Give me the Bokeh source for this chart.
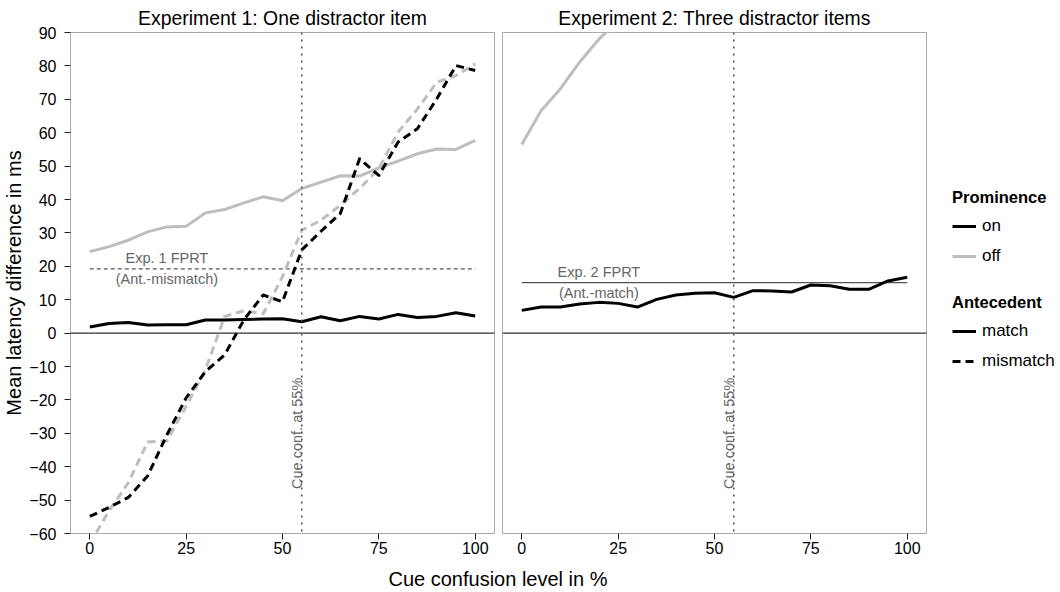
import math
from bokeh.plotting import figure
from bokeh.models import Range1d, Span, Legend, LegendItem, Div, FixedTicker
from bokeh.layouts import row, column
from bokeh.embed import file_html
from bokeh.resources import INLINE
from bokeh.core.properties import value

# ---------------- data ----------------
cue_level = [0, 5, 10, 15, 20, 25, 30, 35, 40, 45, 50, 55, 60, 65, 70, 75, 80, 85, 90, 95, 100]

exp1_on_match = [1.8, 2.9, 3.2, 2.4, 2.5, 2.5, 3.9, 3.9, 4.1, 4.2, 4.3, 3.4, 4.9, 3.7, 5.0, 4.2, 5.6, 4.7, 5.0, 6.1, 5.1]
exp1_off_match = [24.4, 25.9, 27.8, 30.3, 31.8, 32.0, 36.0, 37.0, 39.0, 40.8, 39.6, 43.3, 45.2, 47.1, 47.0, 49.5, 51.5, 53.7, 55.1, 55.0, 57.7]
exp1_on_mismatch = [-54.9, -52.2, -49.2, -42.8, -30.5, -19.4, -11.5, -6.5, 4.0, 11.4, 9.4, 24.9, 30.5, 35.8, 52.2, 47.2, 57.2, 61.2, 70.1, 80.1, 78.6]
exp1_off_mismatch = [-63.0, -53.2, -44.8, -32.6, -32.3, -21.9, -11.0, 5.0, 6.7, 5.8, 16.9, 30.8, 33.8, 38.3, 43.3, 49.2, 60.2, 67.1, 75.1, 77.1, 80.6]

exp2_on_match = [6.8, 7.8, 7.8, 8.7, 9.2, 8.9, 7.8, 10.1, 11.4, 11.9, 12.1, 10.7, 12.7, 12.6, 12.3, 14.4, 14.2, 13.1, 13.1, 15.6, 16.7]
exp2_off_match = [56.5, 66.6, 73.1, 81.1, 88.0, 93.5]  # leaves the visible range after ~22 %

exp1_fprt = 19.2   # Exp. 1 FPRT (Ant.-mismatch)
exp2_fprt = 15.1   # Exp. 2 FPRT (Ant.-match)
cue_conf = 55

x_ticks = [0, 25, 50, 75, 100]
y_ticks = [-60, -50, -40, -30, -20, -10, 0, 10, 20, 30, 40, 50, 60, 70, 80, 90]
panel_titles = ["Experiment 1: One distractor item", "Experiment 2: Three distractor items"]

# ---------------- style ----------------
FONT = "Liberation Sans"
GRAY = "#bebebe"
REF = "#555555"
LW = 3
DASH = "8 5"
H = 556
label_x = 20
cue_text_y = -30
NAN = float("nan")


def style(p):
    p.outline_line_color = "#aaaaaa"
    p.outline_line_width = 1
    p.xgrid.visible = False
    p.ygrid.visible = False
    p.background_fill_color = "white"
    p.border_fill_color = "white"
    p.title.align = "center"
    p.title.text_font = FONT
    p.title.text_font_size = "19.4px"
    p.title.text_font_style = "normal"
    p.title.text_color = "black"
    p.title.standoff = 8
    for ax in p.axis:
        ax.axis_line_color = None
        ax.major_tick_line_color = "#222222"
        ax.major_tick_out = 6
        ax.major_tick_in = 0
        ax.minor_tick_line_color = None
        ax.major_label_text_font = FONT
        ax.major_label_text_font_size = "16px"
        ax.major_label_text_color = "black"
        ax.axis_label_text_font = FONT
        ax.axis_label_text_font_size = "20px"
        ax.axis_label_text_font_style = "normal"
        ax.axis_label_text_color = "black"
    p.xaxis.ticker = FixedTicker(ticks=x_ticks)
    p.xaxis.major_label_standoff = 2
    p.xaxis.axis_label = None
    p.xaxis.axis_label_standoff = 0


def add_refs(p, fprt, fprt_dash, top_txt, bot_txt):
    p.add_layout(Span(location=0, dimension="width", line_color="#333333", line_width=1.3))
    p.add_layout(Span(location=cue_conf, dimension="height", line_color=REF,
                      line_width=1.6, line_dash="2 5"))
    p.segment(x0=[cue_level[0]], x1=[cue_level[-1]], y0=[fprt], y1=[fprt],
              line_color=REF, line_width=1.3, line_dash=fprt_dash)
    p.text(x=[label_x], y=[fprt], text=[top_txt], y_offset=-10.5, text_align="center",
           text_baseline="middle", text_font=value(FONT), text_font_size="14.5px",
           text_color="#666666")
    p.text(x=[label_x], y=[fprt], text=[bot_txt], y_offset=10.5, text_align="center",
           text_baseline="middle", text_font=value(FONT), text_font_size="14.5px",
           text_color="#666666")
    p.text(x=[cue_conf], y=[cue_text_y], text=["Cue conf. at 55%"], angle=math.pi / 2,
           x_offset=-5, text_align="center", text_baseline="alphabetic",
           text_font=value(FONT), text_font_size="14.5px", text_color="#666666")


# ---------------- panel 1 ----------------
p1 = figure(width=498, height=H, x_range=Range1d(-5, 105), y_range=Range1d(-60, 90),
            output_backend="svg", toolbar_location=None, title=panel_titles[0],
            min_border_left=70, min_border_right=4, min_border_top=24, min_border_bottom=20)
style(p1)
p1.yaxis.ticker = FixedTicker(ticks=y_ticks)
p1.yaxis.major_label_standoff = 8
p1.yaxis.axis_label = "Mean latency difference in ms"
p1.yaxis.axis_label_standoff = 1
add_refs(p1, exp1_fprt, "4 3", "Exp. 1 FPRT", "(Ant.-mismatch)")
p1.line(cue_level, exp1_off_match, line_color=GRAY, line_width=LW, line_join="round")
p1.line(cue_level, exp1_off_mismatch, line_color=GRAY, line_width=LW, line_dash=DASH, line_join="round")
p1.line(cue_level, exp1_on_match, line_color="black", line_width=LW, line_join="round")
p1.line(cue_level, exp1_on_mismatch, line_color="black", line_width=LW, line_dash=DASH, line_join="round")

# ---------------- panel 2 ----------------
p2 = figure(width=432, height=H, x_range=Range1d(-5, 105), y_range=Range1d(-60, 90),
            output_backend="svg", toolbar_location=None, title=panel_titles[1],
            y_axis_location=None,
            min_border_left=4, min_border_right=4, min_border_top=24, min_border_bottom=20)
style(p2)
add_refs(p2, exp2_fprt, "solid", "Exp. 2 FPRT", "(Ant.-match)")
p2.line(cue_level[:len(exp2_off_match)], exp2_off_match, line_color=GRAY, line_width=LW, line_join="round")
p2.line(cue_level, exp2_on_match, line_color="black", line_width=LW, line_join="round")

# ---------------- legend ----------------
lf = figure(width=130, height=H, x_range=Range1d(0, 1), y_range=Range1d(0, 1),
            output_backend="svg", toolbar_location=None,
            x_axis_location=None, y_axis_location=None, min_border=0)
lf.outline_line_color = None
lf.border_fill_color = "white"
lf.xgrid.visible = False
lf.ygrid.visible = False
r_on = lf.line(x=[NAN], y=[NAN], line_color="black", line_width=LW)
r_off = lf.line(x=[NAN], y=[NAN], line_color=GRAY, line_width=LW)
r_match = lf.line(x=[NAN], y=[NAN], line_color="black", line_width=LW)
r_mismatch = lf.line(x=[NAN], y=[NAN], line_color="black", line_width=LW, line_dash=DASH)


def make_legend(title, items, loc):
    lg = Legend(items=items, title=title, location=loc, orientation="vertical")
    lg.title_text_font = FONT
    lg.title_text_font_size = "16.5px"
    lg.title_text_font_style = "bold"
    lg.title_text_color = "black"
    lg.title_standoff = 9
    lg.label_text_font = FONT
    lg.label_text_font_size = "17px"
    lg.label_text_color = "black"
    lg.glyph_width = 24
    lg.glyph_height = 20
    lg.label_height = 20
    lg.label_standoff = 6
    lg.spacing = 10
    lg.padding = 0
    lg.margin = 0
    lg.border_line_alpha = 0
    lg.background_fill_alpha = 0
    return lg


lf.add_layout(make_legend("Prominence",
                          [LegendItem(label="on", renderers=[r_on]),
                           LegendItem(label="off", renderers=[r_off])], (22, 267)))
lf.add_layout(make_legend("Antecedent",
                          [LegendItem(label="match", renderers=[r_match]),
                           LegendItem(label="mismatch", renderers=[r_mismatch])], (22, 162)))

xlabel = Div(text="Cue confusion level in %", width=996, height=36, margin=0,
             styles={"text-align": "center", "font-family": FONT, "font-size": "20px",
                     "color": "black", "line-height": "24px", "padding-top": "11px"})

layout = column(row(p1, p2, lf, spacing=0), xlabel, spacing=0)
open("out.html", "w").write(file_html(layout, INLINE))
